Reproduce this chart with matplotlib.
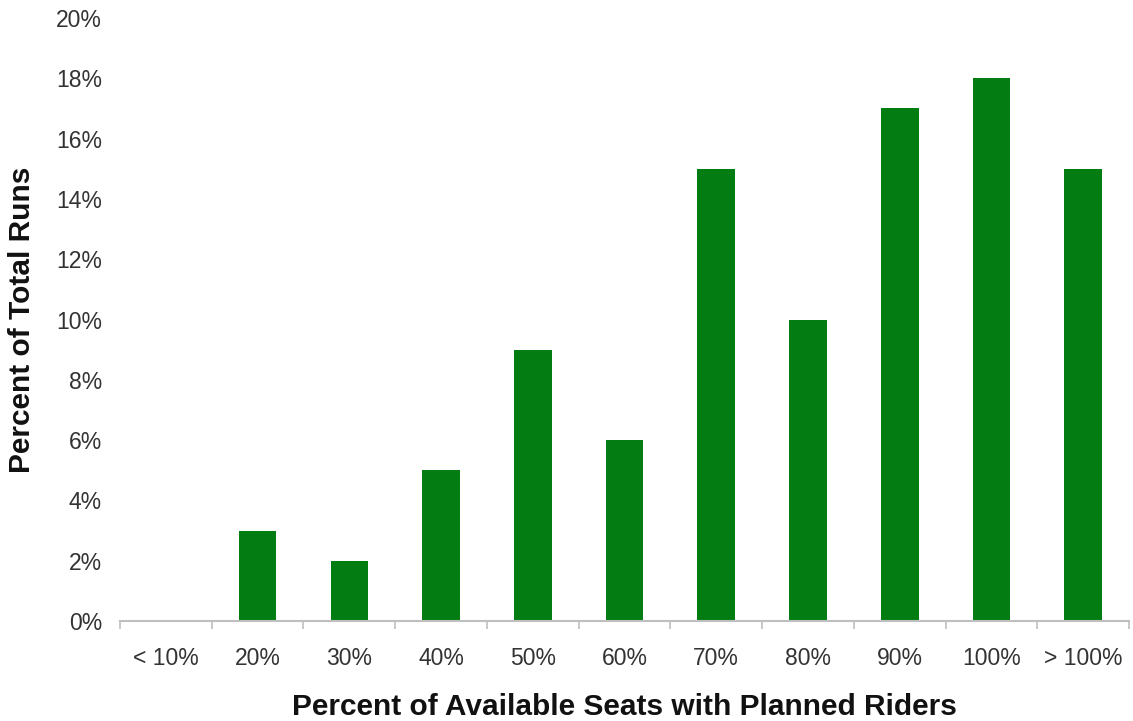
import matplotlib
matplotlib.use("Agg")
import matplotlib.pyplot as plt
from matplotlib.ticker import FixedLocator, PercentFormatter

categories = ["< 10%", "20%", "30%", "40%", "50%", "60%", "70%", "80%", "90%", "100%", "> 100%"]
percent_of_runs = [0, 3, 2, 5, 9, 6, 15, 10, 17, 18, 15]
y_ticks = [0, 2, 4, 6, 8, 10, 12, 14, 16, 18, 20]

plt.rcParams["font.family"] = ["Liberation Sans", "DejaVu Sans"]

fig = plt.figure(figsize=(11.33, 7.21), dpi=100)
ax = fig.add_axes([0.1059, 0.1387, 0.8906, 0.8363])

x = list(range(len(categories)))
ax.bar(x, percent_of_runs, width=0.41, color="#037d12", zorder=2)

ax.set_xlim(-0.5, len(categories) - 0.5)
ax.set_ylim(0, 20)
ax.set_yticks(y_ticks)
ax.yaxis.set_major_formatter(PercentFormatter(decimals=0))
ax.tick_params(axis="y", length=0, pad=13, labelsize=16.5, labelcolor="#333333")

ax.set_xticks(x)
ax.set_xticklabels(categories)
ax.xaxis.set_minor_locator(FixedLocator([i - 0.5 for i in range(len(categories) + 1)]))
ax.tick_params(axis="x", which="major", length=0, pad=19, labelsize=16.5, labelcolor="#333333")
ax.tick_params(axis="x", which="minor", length=6, width=1.2, color="#bfbfbf", direction="out")

for side in ("top", "right", "left"):
    ax.spines[side].set_visible(False)
ax.spines["bottom"].set_color("#bfbfbf")
ax.spines["bottom"].set_linewidth(1.5)

ax.set_xlabel("Percent of Available Seats with Planned Riders", fontsize=21.5,
              fontweight="bold", color="#111111", labelpad=16)
ax.set_ylabel("Percent of Total Runs", fontsize=21.5, fontweight="bold",
              color="#111111", labelpad=14)

fig.savefig("out.png", dpi=100)
